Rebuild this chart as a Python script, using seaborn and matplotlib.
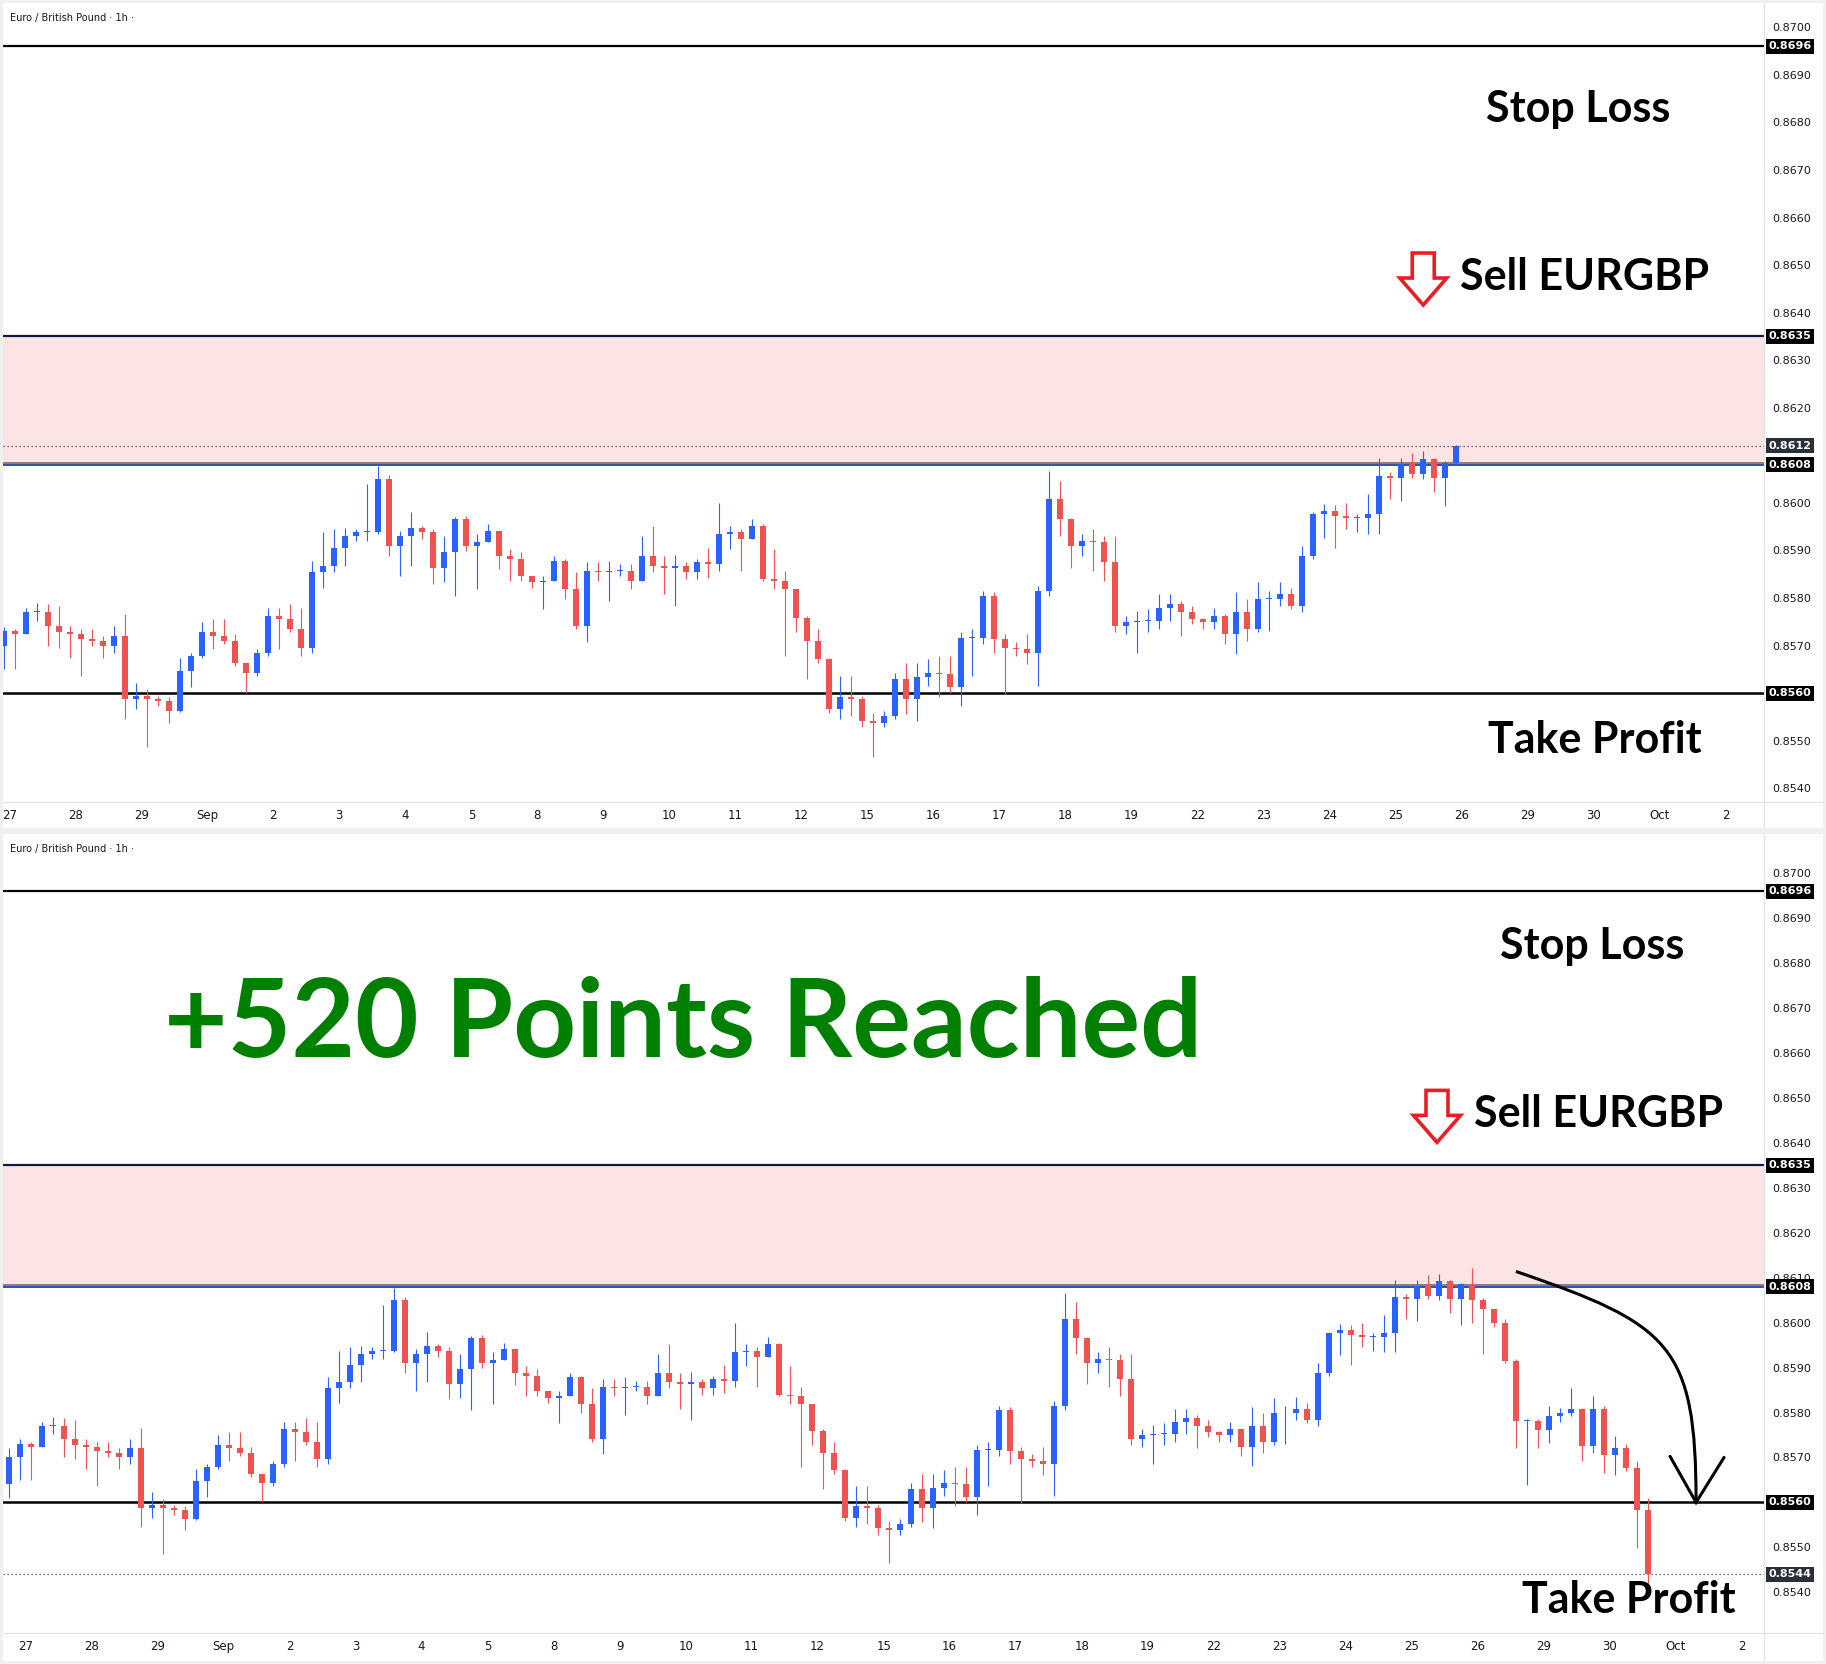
import matplotlib
matplotlib.use('Agg')
import matplotlib.pyplot as plt
import seaborn as sns
import numpy as np
from matplotlib.patches import Polygon, Rectangle, PathPatch
from matplotlib.path import Path
from matplotlib.lines import Line2D
from matplotlib.transforms import ScaledTranslation, offset_copy

sns.set_theme(style='white')
plt.rcParams['font.family'] = ['DejaVu Sans']

UP = '#2962ff'
DOWN = '#ef5350'
INK = '#131722'
GRID = '#e0e3eb'
BIG = ['Lato', 'DejaVu Sans']

W, H = 1826, 1664

# trading days on the time axis (24 h each, weekends skipped)
day_labels = ['27', '28', '29', 'Sep', '2', '3', '4', '5', '8', '9', '10', '11', '12',
              '15', '16', '17', '18', '19', '22', '23', '24', '25', '26', '29', '30', 'Oct', '2']
price_ticks = [0.8540, 0.8550, 0.8570, 0.8580, 0.8590, 0.8600, 0.8610, 0.8620,
               0.8630, 0.8640, 0.8650, 0.8660, 0.8670, 0.8680, 0.8690, 0.8700]

# trade levels
stop_loss = 0.8696
zone_high = 0.8635
entry = 0.8608
take_profit = 0.8560

# EURGBP 4h candles, Aug 26 20:00 -> Sep 25 20:00 (seen in both panels)
open0 = 0.8570
hist_close = [
    0.85730,
    0.85724, 0.85770, 0.85770, 0.85742, 0.85728, 0.85724,  # Aug 27
    0.85714, 0.85710, 0.85700, 0.85721, 0.85587, 0.85594,  # Aug 28
    0.85587, 0.85584, 0.85563, 0.85647, 0.85678, 0.85728,  # Aug 29
    0.85721, 0.85710, 0.85664, 0.85643, 0.85685, 0.85763,  # Sep 1
    0.85756, 0.85735, 0.85696, 0.85854, 0.85868, 0.85906,  # Sep 2
    0.85931, 0.85938, 0.85938, 0.86050, 0.85910, 0.85931,  # Sep 3
    0.85948, 0.85938, 0.85864, 0.85896, 0.85966, 0.85910,  # Sep 4
    0.85917, 0.85941, 0.85889, 0.85882, 0.85847, 0.85833,  # Sep 5
    0.85836, 0.85878, 0.85819, 0.85742, 0.85857, 0.85854,  # Sep 8
    0.85857, 0.85857, 0.85836, 0.85889, 0.85868, 0.85864,  # Sep 9
    0.85868, 0.85854, 0.85875, 0.85871, 0.85934, 0.85938,  # Sep 10
    0.85924, 0.85952, 0.85840, 0.85836, 0.85819, 0.85759,  # Sep 11
    0.85710, 0.85671, 0.85566, 0.85591, 0.85587, 0.85542,  # Sep 12
    0.85538, 0.85552, 0.85629, 0.85587, 0.85633, 0.85643,  # Sep 15
    0.85640, 0.85612, 0.85717, 0.85717, 0.85805, 0.85714,  # Sep 16
    0.85696, 0.85692, 0.85685, 0.85815, 0.86008, 0.85966,  # Sep 17
    0.85910, 0.85920, 0.85917, 0.85875, 0.85742, 0.85749,  # Sep 18
    0.85752, 0.85752, 0.85780, 0.85787, 0.85770, 0.85756,  # Sep 19
    0.85749, 0.85763, 0.85724, 0.85770, 0.85735, 0.85798,  # Sep 22
    0.85798, 0.85808, 0.85784, 0.85889, 0.85976, 0.85983,  # Sep 23
    0.85973, 0.85969, 0.85969, 0.85976, 0.86057, 0.86053,  # Sep 24
    0.86081, 0.86060, 0.86092, 0.86053, 0.86085,           # Sep 25
]
hist_high = [
    0.85740,
    0.85735, 0.85780, 0.85790, 0.85787, 0.85784, 0.85742,
    0.85735, 0.85735, 0.85721, 0.85742, 0.85766, 0.85622,
    0.85608, 0.85594, 0.85591, 0.85675, 0.85685, 0.85749,
    0.85756, 0.85756, 0.85724, 0.85664, 0.85692, 0.85780,
    0.85780, 0.85787, 0.85780, 0.85878, 0.85938, 0.85945,
    0.85948, 0.85945, 0.86039, 0.86078, 0.86058, 0.85941,
    0.85980, 0.85952, 0.85945, 0.85931, 0.85970, 0.85973,
    0.85934, 0.85955, 0.85941, 0.85903, 0.85896, 0.85847,
    0.85847, 0.85889, 0.85882, 0.85854, 0.85875, 0.85875,
    0.85878, 0.85871, 0.85871, 0.85931, 0.85952, 0.85889,
    0.85890, 0.85875, 0.85882, 0.85906, 0.85999, 0.85952,
    0.85945, 0.85967, 0.85955, 0.85903, 0.85857, 0.85815,
    0.85763, 0.85735, 0.85675, 0.85636, 0.85636, 0.85594,
    0.85559, 0.85563, 0.85643, 0.85664, 0.85664, 0.85671,
    0.85678, 0.85678, 0.85728, 0.85735, 0.85815, 0.85812,
    0.85724, 0.85707, 0.85724, 0.85826, 0.86067, 0.86046,
    0.85969, 0.85934, 0.85945, 0.85931, 0.85931, 0.85763,
    0.85773, 0.85777, 0.85808, 0.85808, 0.85794, 0.85784,
    0.85759, 0.85780, 0.85766, 0.85812, 0.85798, 0.85833,
    0.85815, 0.85834, 0.85822, 0.85910, 0.85980, 0.85997,
    0.85995, 0.85999, 0.85976, 0.86018, 0.86095, 0.86064,
    0.86095, 0.86106, 0.86109, 0.86095, 0.86088,
]
hist_low = [
    0.85650,
    0.85650, 0.85724, 0.85752, 0.85700, 0.85696, 0.85675,
    0.85636, 0.85700, 0.85675, 0.85685, 0.85545, 0.85566,
    0.85486, 0.85573, 0.85538, 0.85560, 0.85612, 0.85675,
    0.85692, 0.85703, 0.85657, 0.85600, 0.85636, 0.85678,
    0.85692, 0.85728, 0.85678, 0.85685, 0.85822, 0.85854,
    0.85868, 0.85920, 0.85920, 0.85934, 0.85889, 0.85847,
    0.85868, 0.85924, 0.85829, 0.85833, 0.85805, 0.85899,
    0.85819, 0.85917, 0.85861, 0.85836, 0.85836, 0.85822,
    0.85777, 0.85836, 0.85798, 0.85735, 0.85707, 0.85836,
    0.85794, 0.85847, 0.85819, 0.85836, 0.85854, 0.85808,
    0.85784, 0.85840, 0.85840, 0.85843, 0.85857, 0.85903,
    0.85857, 0.85924, 0.85836, 0.85819, 0.85678, 0.85728,
    0.85629, 0.85664, 0.85559, 0.85545, 0.85552, 0.85528,
    0.85465, 0.85528, 0.85545, 0.85556, 0.85542, 0.85615,
    0.85591, 0.85601, 0.85573, 0.85636, 0.85703, 0.85685,
    0.85598, 0.85678, 0.85661, 0.85615, 0.85805, 0.85931,
    0.85864, 0.85889, 0.85857, 0.85836, 0.85728, 0.85724,
    0.85685, 0.85728, 0.85735, 0.85752, 0.85720, 0.85745,
    0.85735, 0.85735, 0.85703, 0.85682, 0.85710, 0.85728,
    0.85731, 0.85784, 0.85777, 0.85770, 0.85882, 0.85927,
    0.85906, 0.85945, 0.85938, 0.85934, 0.85934, 0.86008,
    0.86004, 0.86053, 0.86050, 0.86022, 0.85994,
]

# top panel: candle still forming at the snapshot (Sep 25 20:00)
top_last_close = [0.86120]
top_last_high = [0.86121]
top_last_low = [0.86080]

# bottom panel: one earlier candle, then the move after the snapshot
pre_open = 0.8564
pre_close = [0.85700]
pre_high = [0.85720]
pre_low = [0.85610]
ext_close = [
    0.86050,                                               # Sep 25 20h
    0.86031, 0.86000, 0.85915, 0.85781, 0.85781, 0.85762,  # Sep 26
    0.85792, 0.85799, 0.85807, 0.85725, 0.85807, 0.85706,  # Sep 29
    0.85721, 0.85677, 0.85584, 0.85440,                    # Sep 30
]
ext_high = [
    0.86121,
    0.86055, 0.86031, 0.86008, 0.85918, 0.85785, 0.85785,
    0.85814, 0.85810, 0.85855, 0.85810, 0.85837, 0.85815,
    0.85747, 0.85729, 0.85692, 0.85610,
]
ext_low = [
    0.86000,
    0.85930, 0.85990, 0.85910, 0.85721, 0.85639, 0.85721,
    0.85732, 0.85780, 0.85792, 0.85692, 0.85710, 0.85665,
    0.85662, 0.85670, 0.85498, 0.85410,
]


def draw_candles(ax, start_hour, first_open, closes, highs, lows):
    closes = np.asarray(closes)
    opens = np.concatenate([[first_open], closes[:-1]])
    x = start_hour + 2 + 4 * np.arange(len(closes))
    colors = np.where(closes >= opens, UP, DOWN)
    ax.vlines(x, lows, highs, colors=colors, linewidth=0.8, zorder=4)
    body = closes - opens
    body = np.where(np.abs(body) < 0.00002, 0.00002, body)
    ax.bar(x, body, bottom=opens, width=2.2, color=colors, linewidth=0, zorder=4)


def price_tag(ax, price, face):
    ax.text(1.0025, price, f'{price:.4f}', transform=ax.get_yaxis_transform(),
            ha='left', va='center', fontsize=8, fontweight='bold', color='white',
            bbox=dict(boxstyle='square,pad=0.22', facecolor=face, edgecolor='none'),
            clip_on=False, zorder=10)


def sell_arrow(ax, x, y):
    # outlined down arrow, tip at (x, y), shape in inches
    pts = [(0, 0), (-0.235, 0.27), (-0.11, 0.27), (-0.11, 0.52),
           (0.11, 0.52), (0.11, 0.27), (0.235, 0.27)]
    tr = fig.dpi_scale_trans + ScaledTranslation(x, y, ax.transData)
    ax.add_patch(Polygon(pts, closed=True, facecolor='white', edgecolor='#ed1c24',
                         linewidth=2.6, joinstyle='miter', transform=tr, zorder=7))


def setup_panel(ax, xlim, ylim, ticks, last_price):
    ax.set_xlim(*xlim)
    ax.set_ylim(*ylim)
    ax.set_facecolor('white')
    for s in ax.spines.values():
        s.set_visible(False)
    ax.grid(False)
    ax.set_xticks([24 * d for d in range(len(day_labels))])
    ax.set_xticklabels(day_labels)
    ax.tick_params(axis='x', length=0, pad=5, labelsize=8.5, labelcolor=INK)
    ax.yaxis.tick_right()
    ax.set_yticks(ticks)
    ax.set_yticklabels([f'{t:.4f}' for t in ticks])
    ax.tick_params(axis='y', length=0, pad=6, labelsize=8, labelcolor=INK)

    ax.axhspan(entry, zone_high, facecolor='#fce4e4', edgecolor='none', zorder=1)
    ax.plot([0, 1], [entry, entry], color='#8d6e6e', lw=1.3, zorder=2,
            transform=offset_copy(ax.get_yaxis_transform(), fig=fig, y=1.4, units='dots'))
    ax.plot([0, 1], [entry, entry], color='#1f45a6', lw=1.3, zorder=2,
            transform=offset_copy(ax.get_yaxis_transform(), fig=fig, y=-0.6, units='dots'))
    ax.axhline(stop_loss, color='black', lw=1.6, zorder=2)
    ax.axhline(zone_high, color='#0c1a45', lw=1.6, zorder=2)
    ax.axhline(take_profit, color='black', lw=1.8, zorder=2)
    ax.axhline(last_price, color='#3b3f4a', lw=0.9, ls=(0, (1, 2.2)), zorder=2)

    price_tag(ax, stop_loss, 'black')
    price_tag(ax, zone_high, 'black')
    price_tag(ax, entry, 'black')
    price_tag(ax, take_profit, 'black')
    price_tag(ax, round(last_price, 4), '#2a2e39')


fig = plt.figure(figsize=(W / 100, H / 100), dpi=100, facecolor='#f0f0f0')
for y0, y1 in [(3, 828), (834, 1661)]:
    fig.add_artist(Rectangle((3 / W, 1 - y1 / H), 1820 / W, (y1 - y0) / H,
                             transform=fig.transFigure, facecolor='white',
                             edgecolor='none', zorder=0))

ax_top = fig.add_axes([3 / W, 1 - 802 / H, 1761 / W, 797 / H])
ax_bot = fig.add_axes([3 / W, 1 - 1633 / H, 1761 / W, 798 / H])

# separators of the price scale and the date scale
for (y0, y1), yb in [((3, 828), 802), ((834, 1661), 1633)]:
    fig.add_artist(Line2D([1764 / W, 1764 / W], [1 - y0 / H, 1 - y1 / H],
                          transform=fig.transFigure, color=GRID, lw=0.9))
    fig.add_artist(Line2D([3 / W, 1823 / W], [1 - yb / H, 1 - yb / H],
                          transform=fig.transFigure, color=GRID, lw=0.9))

# ---- top panel: the trade setup ----
top_close = hist_close + top_last_close
top_high = hist_high + top_last_high
top_low = hist_low + top_last_low
setup_panel(ax_top, (-2.3, 638.0), (0.853712, 0.870469),
            [t for t in price_ticks if abs(t - 0.8610) > 1e-6], top_close[-1])
draw_candles(ax_top, -4, open0, top_close, top_high, top_low)

ax_top.text(0.004, 0.984, 'Euro / British Pound · 1h ·', transform=ax_top.transAxes,
            fontsize=7, color=INK, va='center', ha='left')
ax_top.text(570.4, 0.868009, 'Stop Loss', ha='center', va='baseline', fontsize=31,
            fontweight='bold', family=BIG, color='black', zorder=6)
ax_top.text(572.6, 0.864477, 'Sell EURGBP', ha='center', va='baseline', fontsize=31,
            fontweight='bold', family=BIG, color='black', zorder=6)
ax_top.text(576.4, 0.854742, 'Take Profit', ha='center', va='baseline', fontsize=31,
            fontweight='bold', family=BIG, color='black', zorder=6)
sell_arrow(ax_top, 514.1, 0.864161)

# ---- bottom panel: the outcome ----
bot_close = pre_close + hist_close + ext_close
bot_high = pre_high + hist_high + ext_high
bot_low = pre_low + hist_low + ext_low
setup_panel(ax_bot, (-8.2, 632.1), (0.853093, 0.870853), price_ticks, bot_close[-1])
draw_candles(ax_bot, -8, pre_open, bot_close, bot_high, bot_low)

ax_bot.text(0.004, 0.9825, 'Euro / British Pound · 1h ·', transform=ax_bot.transAxes,
            fontsize=7, color=INK, va='center', ha='left')
ax_bot.text(239.1, 0.865906, '+520 Points Reached', ha='center', va='baseline',
            fontsize=79, fontweight='bold', family=BIG, color='#008000', zorder=6)
ax_bot.text(569.6, 0.868090, 'Stop Loss', ha='center', va='baseline', fontsize=31,
            fontweight='bold', family=BIG, color='black', zorder=6)
ax_bot.text(572.0, 0.864346, 'Sell EURGBP', ha='center', va='baseline', fontsize=31,
            fontweight='bold', family=BIG, color='black', zorder=6)
ax_bot.text(583.1, 0.853539, 'Take Profit', ha='center', va='baseline', fontsize=31,
            fontweight='bold', family=BIG, color='black', zorder=6)
sell_arrow(ax_bot, 513.2, 0.864012)

# curved arrow down to the take-profit level
curve = Path([(541.9, 0.86114), (598.0, 0.85996), (607.4, 0.85951), (607.4, take_profit)],
             [Path.MOVETO, Path.CURVE4, Path.CURVE4, Path.CURVE4])
ax_bot.add_patch(PathPatch(curve, facecolor='none', edgecolor='black', lw=2.2, zorder=6))
head = fig.dpi_scale_trans + ScaledTranslation(607.4, take_profit, ax_bot.transData)
ax_bot.add_line(Line2D([-0.26, 0, 0.28], [0.46, 0, 0.45], color='black', lw=2.2,
                       transform=head, zorder=6, solid_joinstyle='miter'))

fig.savefig('out.png', dpi=100, facecolor=fig.get_facecolor())
